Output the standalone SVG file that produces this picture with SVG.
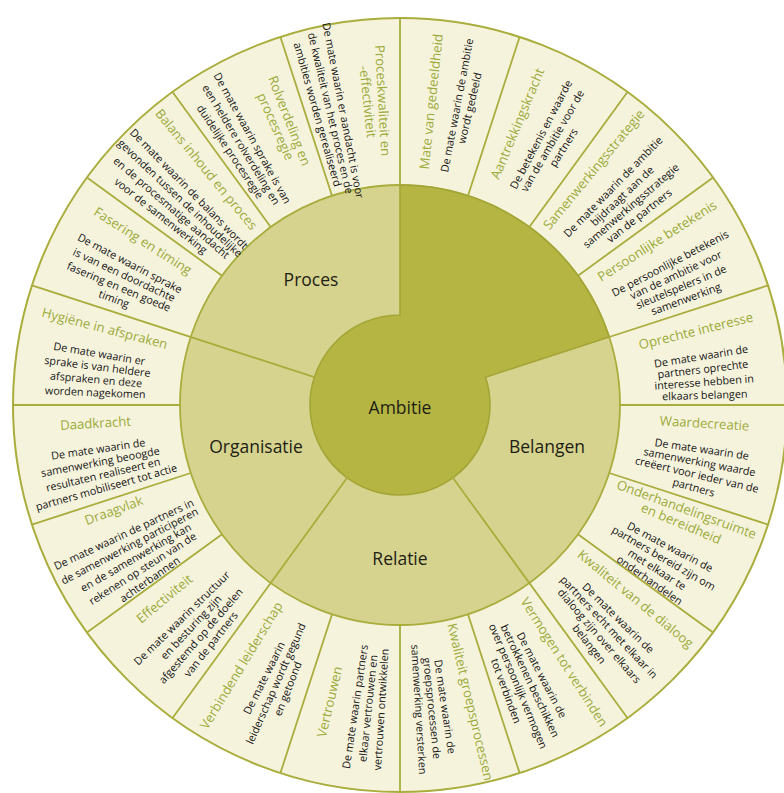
<svg xmlns="http://www.w3.org/2000/svg" width="784" height="793" viewBox="0 0 784 793">
<style>
.t{font-family:"Open Sans","Noto Sans",sans-serif;font-size:13.2px;fill:#9bab3a;text-anchor:middle}
.b{font-family:"Open Sans","Noto Sans",sans-serif;font-size:10.8px;fill:#141414;text-anchor:middle}
.c{font-family:"Open Sans","Noto Sans",sans-serif;font-size:17.5px;fill:#1e1e14;text-anchor:middle}
.div{stroke:#a9ad3c;stroke-width:1.8;fill:none}
</style>
<rect width="784" height="793" fill="#ffffff"/>
<g id="rings">
<circle cx="400" cy="405" r="387" fill="#f6f3dd" stroke="#a9ad3c" stroke-width="2"/>
<circle cx="400" cy="405" r="220" fill="#d6d38f" stroke="#a9ad3c" stroke-width="1.8"/>
<path d="M400,185 A220,220 0 0 1 609.23,337.02 L485.60,377.19 A90,90 0 1 1 400,315 Z" fill="#b5b544" stroke="#a3a636" stroke-width="1.6"/>
</g>
<g id="connectors" class="div" transform="translate(400 405)">
<line x1="220" y1="0" x2="387" y2="0" transform="rotate(0)"/>
<line x1="220" y1="0" x2="387" y2="0" transform="rotate(18)"/>
<line x1="220" y1="0" x2="387" y2="0" transform="rotate(36)"/>
<line x1="90" y1="0" x2="387" y2="0" transform="rotate(54)"/>
<line x1="220" y1="0" x2="387" y2="0" transform="rotate(72)"/>
<line x1="220" y1="0" x2="387" y2="0" transform="rotate(90)"/>
<line x1="220" y1="0" x2="387" y2="0" transform="rotate(108)"/>
<line x1="90" y1="0" x2="387" y2="0" transform="rotate(126)"/>
<line x1="220" y1="0" x2="387" y2="0" transform="rotate(144)"/>
<line x1="220" y1="0" x2="387" y2="0" transform="rotate(162)"/>
<line x1="220" y1="0" x2="387" y2="0" transform="rotate(180)"/>
<line x1="90" y1="0" x2="387" y2="0" transform="rotate(198)"/>
<line x1="220" y1="0" x2="387" y2="0" transform="rotate(216)"/>
<line x1="220" y1="0" x2="387" y2="0" transform="rotate(234)"/>
<line x1="220" y1="0" x2="387" y2="0" transform="rotate(252)"/>
<line x1="220" y1="0" x2="387" y2="0" transform="rotate(270)"/>
<line x1="220" y1="0" x2="387" y2="0" transform="rotate(288)"/>
<line x1="220" y1="0" x2="387" y2="0" transform="rotate(306)"/>
<line x1="220" y1="0" x2="387" y2="0" transform="rotate(324)"/>
<line x1="220" y1="0" x2="387" y2="0" transform="rotate(342)"/>
</g>
<g id="center-labels">
<g id="ambitie"><text class="c" x="400" y="414">Ambitie</text></g>
<g id="proces"><text class="c" x="311" y="286">Proces</text></g>
<g id="organisatie"><text class="c" x="256" y="453">Organisatie</text></g>
<g id="belangen"><text class="c" x="547" y="453">Belangen</text></g>
<g id="relatie"><text class="c" x="400" y="565">Relatie</text></g>
</g>
<g id="segments" transform="translate(400 405)">
<g id="seg-gedeeldheid">
<text class="t" y="4.5" transform="rotate(275.90) translate(305 0)">Mate van gedeeldheid</text>
<text class="b" y="3.7" transform="rotate(280.78) translate(305 0)">De mate waarin de ambitie</text>
<text class="b" y="3.7" transform="rotate(283.23) translate(305 0)">wordt gedeeld</text>
</g>
<g id="seg-aantrekkingskracht">
<text class="t" y="4.5" transform="rotate(292.68) translate(305 0)">Aantrekkingskracht</text>
<text class="b" y="3.7" transform="rotate(297.56) translate(305 0)">De betekenis en waarde</text>
<text class="b" y="3.7" transform="rotate(300.01) translate(305 0)">van de ambitie voor de</text>
<text class="b" y="3.7" transform="rotate(302.45) translate(305 0)">partners</text>
</g>
<g id="seg-samenwerkingsstrategie">
<text class="t" y="4.5" transform="rotate(309.46) translate(305 0)">Samenwerkingsstrategie</text>
<text class="b" y="3.7" transform="rotate(314.34) translate(305 0)">De mate waarin de ambitie</text>
<text class="b" y="3.7" transform="rotate(316.78) translate(305 0)">bijdraagt aan de</text>
<text class="b" y="3.7" transform="rotate(319.23) translate(305 0)">samenwerkingsstrategie</text>
<text class="b" y="3.7" transform="rotate(321.67) translate(305 0)">van de partners</text>
</g>
<g id="seg-persoonlijke-betekenis">
<text class="t" y="4.5" transform="rotate(327.46) translate(305 0)">Persoonlijke betekenis</text>
<text class="b" y="3.7" transform="rotate(332.34) translate(305 0)">De persoonlijke betekenis</text>
<text class="b" y="3.7" transform="rotate(334.78) translate(305 0)">van de ambitie voor</text>
<text class="b" y="3.7" transform="rotate(337.23) translate(305 0)">sleutelspelers in de</text>
<text class="b" y="3.7" transform="rotate(339.67) translate(305 0)">samenwerking</text>
</g>
<g id="seg-oprechte-interesse">
<text class="t" y="4.5" transform="rotate(345.96) translate(305 0)">Oprechte interesse</text>
<text class="b" y="3.7" transform="rotate(350.84) translate(305 0)">De mate waarin de</text>
<text class="b" y="3.7" transform="rotate(353.28) translate(305 0)">partners oprechte</text>
<text class="b" y="3.7" transform="rotate(355.73) translate(305 0)">interesse hebben in</text>
<text class="b" y="3.7" transform="rotate(358.17) translate(305 0)">elkaars belangen</text>
</g>
<g id="seg-waardecreatie">
<text class="t" y="4.5" transform="rotate(3.46) translate(305 0)">Waardecreatie</text>
<text class="b" y="3.7" transform="rotate(8.34) translate(305 0)">De mate waarin de</text>
<text class="b" y="3.7" transform="rotate(10.78) translate(305 0)">samenwerking waarde</text>
<text class="b" y="3.7" transform="rotate(13.23) translate(305 0)">creëert voor ieder van de</text>
<text class="b" y="3.7" transform="rotate(15.67) translate(305 0)">partners</text>
</g>
<g id="seg-onderhandelingsruimte">
<text class="t" y="4.5" transform="rotate(20.05) translate(305 0)">Onderhandelingsruimte</text>
<text class="t" y="4.5" transform="rotate(22.87) translate(305 0)">en bereidheid</text>
<text class="b" y="3.7" transform="rotate(27.75) translate(305 0)">De mate waarin de</text>
<text class="b" y="3.7" transform="rotate(30.19) translate(305 0)">partners bereid zijn om</text>
<text class="b" y="3.7" transform="rotate(32.64) translate(305 0)">met elkaar te</text>
<text class="b" y="3.7" transform="rotate(35.08) translate(305 0)">onderhandelen</text>
</g>
<g id="seg-dialoog">
<text class="t" y="4.5" transform="rotate(39.46) translate(305 0)">Kwaliteit van de dialoog</text>
<text class="b" y="3.7" transform="rotate(44.34) translate(305 0)">De mate waarin de</text>
<text class="b" y="3.7" transform="rotate(46.78) translate(305 0)">partners echt met elkaar in</text>
<text class="b" y="3.7" transform="rotate(49.23) translate(305 0)">dialoog zijn over elkaars</text>
<text class="b" y="3.7" transform="rotate(51.67) translate(305 0)">belangen</text>
</g>
<g id="seg-vermogen">
<text class="t" y="4.5" transform="rotate(57.46) translate(305 0)">Vermogen tot verbinden</text>
<text class="b" y="3.7" transform="rotate(62.34) translate(305 0)">De mate waarin de</text>
<text class="b" y="3.7" transform="rotate(64.78) translate(305 0)">betrokkenen beschikken</text>
<text class="b" y="3.7" transform="rotate(67.23) translate(305 0)">over persoonlijk vermogen</text>
<text class="b" y="3.7" transform="rotate(69.67) translate(305 0)">tot verbinden</text>
</g>
<g id="seg-groepsprocessen">
<text class="t" y="4.5" transform="rotate(76.68) translate(305 0)">Kwaliteit groepsprocessen</text>
<text class="b" y="3.7" transform="rotate(81.56) translate(305 0)">De mate waarin de</text>
<text class="b" y="3.7" transform="rotate(84.01) translate(305 0)">groepsprocessen de</text>
<text class="b" y="3.7" transform="rotate(86.45) translate(305 0)">samenwerking versterken</text>
</g>
<g id="seg-vertrouwen">
<text class="t" y="4.5" transform="rotate(103.32) translate(305 0) rotate(180)">Vertrouwen</text>
<text class="b" y="3.7" transform="rotate(98.44) translate(305 0) rotate(180)">De mate waarin partners</text>
<text class="b" y="3.7" transform="rotate(95.99) translate(305 0) rotate(180)">elkaar vertrouwen en</text>
<text class="b" y="3.7" transform="rotate(93.55) translate(305 0) rotate(180)">vertrouwen ontwikkelen</text>
</g>
<g id="seg-leiderschap">
<text class="t" y="4.5" transform="rotate(121.32) translate(305 0) rotate(180)">Verbindend leiderschap</text>
<text class="b" y="3.7" transform="rotate(116.44) translate(305 0) rotate(180)">De mate waarin</text>
<text class="b" y="3.7" transform="rotate(113.99) translate(305 0) rotate(180)">leiderschap wordt gegund</text>
<text class="b" y="3.7" transform="rotate(111.55) translate(305 0) rotate(180)">en getoond</text>
</g>
<g id="seg-effectiviteit">
<text class="t" y="4.5" transform="rotate(140.54) translate(305 0) rotate(180)">Effectiviteit</text>
<text class="b" y="3.7" transform="rotate(135.66) translate(305 0) rotate(180)">De mate waarin structuur</text>
<text class="b" y="3.7" transform="rotate(133.22) translate(305 0) rotate(180)">en besturing zijn</text>
<text class="b" y="3.7" transform="rotate(130.77) translate(305 0) rotate(180)">afgestemd op de doelen</text>
<text class="b" y="3.7" transform="rotate(128.33) translate(305 0) rotate(180)">van de partners</text>
</g>
<g id="seg-draagvlak">
<text class="t" y="4.5" transform="rotate(159.76) translate(305 0) rotate(180)">Draagvlak</text>
<text class="b" y="3.7" transform="rotate(154.88) translate(305 0) rotate(180)">De mate waarin de partners in</text>
<text class="b" y="3.7" transform="rotate(152.44) translate(305 0) rotate(180)">de samenwerking participeren</text>
<text class="b" y="3.7" transform="rotate(149.99) translate(305 0) rotate(180)">en de samenwerking kan</text>
<text class="b" y="3.7" transform="rotate(147.55) translate(305 0) rotate(180)">rekenen op steun van de</text>
<text class="b" y="3.7" transform="rotate(145.11) translate(305 0) rotate(180)">achterbannen</text>
</g>
<g id="seg-daadkracht">
<text class="t" y="4.5" transform="rotate(176.54) translate(305 0) rotate(180)">Daadkracht</text>
<text class="b" y="3.7" transform="rotate(171.66) translate(305 0) rotate(180)">De mate waarin de</text>
<text class="b" y="3.7" transform="rotate(169.22) translate(305 0) rotate(180)">samenwerking beoogde</text>
<text class="b" y="3.7" transform="rotate(166.77) translate(305 0) rotate(180)">resultaten realiseert en</text>
<text class="b" y="3.7" transform="rotate(164.33) translate(305 0) rotate(180)">partners mobiliseert tot actie</text>
</g>
<g id="seg-hygiene">
<text class="t" y="4.5" transform="rotate(194.54) translate(305 0) rotate(180)">Hygiëne in afspraken</text>
<text class="b" y="3.7" transform="rotate(189.66) translate(305 0) rotate(180)">De mate waarin er</text>
<text class="b" y="3.7" transform="rotate(187.22) translate(305 0) rotate(180)">sprake is van heldere</text>
<text class="b" y="3.7" transform="rotate(184.77) translate(305 0) rotate(180)">afspraken en deze</text>
<text class="b" y="3.7" transform="rotate(182.33) translate(305 0) rotate(180)">worden nagekomen</text>
</g>
<g id="seg-fasering">
<text class="t" y="4.5" transform="rotate(212.54) translate(305 0) rotate(180)">Fasering en timing</text>
<text class="b" y="3.7" transform="rotate(207.66) translate(305 0) rotate(180)">De mate waarin sprake</text>
<text class="b" y="3.7" transform="rotate(205.22) translate(305 0) rotate(180)">is van een doordachte</text>
<text class="b" y="3.7" transform="rotate(202.77) translate(305 0) rotate(180)">fasering en een goede</text>
<text class="b" y="3.7" transform="rotate(200.33) translate(305 0) rotate(180)">timing</text>
</g>
<g id="seg-balans">
<text class="t" y="4.5" transform="rotate(230.54) translate(305 0) rotate(180)">Balans inhoud en proces</text>
<text class="b" y="3.7" transform="rotate(225.66) translate(302 0) rotate(180)">De mate waarin de balans wordt</text>
<text class="b" y="3.7" transform="rotate(223.22) translate(302 0) rotate(180)">gevonden tussen de inhoudelijke</text>
<text class="b" y="3.7" transform="rotate(220.77) translate(302 0) rotate(180)">en de procesmatige aandacht</text>
<text class="b" y="3.7" transform="rotate(218.33) translate(305 0) rotate(180)">voor de samenwerking</text>
</g>
<g id="seg-rolverdeling">
<text class="t" y="4.5" transform="rotate(248.73) translate(305 0) rotate(180)">Rolverdeling en</text>
<text class="t" y="4.5" transform="rotate(245.91) translate(305 0) rotate(180)">procesregie</text>
<text class="b" y="3.7" transform="rotate(241.03) translate(305 0) rotate(180)">De mate waarin sprake is van</text>
<text class="b" y="3.7" transform="rotate(238.59) translate(305 0) rotate(180)">een heldere rolverdeling en</text>
<text class="b" y="3.7" transform="rotate(236.14) translate(305 0) rotate(180)">duidelijke procesregie</text>
</g>
<g id="seg-proceskwaliteit">
<text class="t" y="4.5" transform="rotate(266.73) translate(305 0) rotate(180)">Proceskwaliteit en</text>
<text class="t" y="4.5" transform="rotate(263.91) translate(305 0) rotate(180)">-effectiviteit</text>
<text class="b" y="3.7" transform="rotate(259.03) translate(300 0) rotate(180)">De mate waarin er aandacht is voor</text>
<text class="b" y="3.7" transform="rotate(256.59) translate(300 0) rotate(180)">de kwaliteit van het proces en de</text>
<text class="b" y="3.7" transform="rotate(254.14) translate(302 0) rotate(180)">ambities worden gerealiseerd</text>
</g>
</g>
</svg>
